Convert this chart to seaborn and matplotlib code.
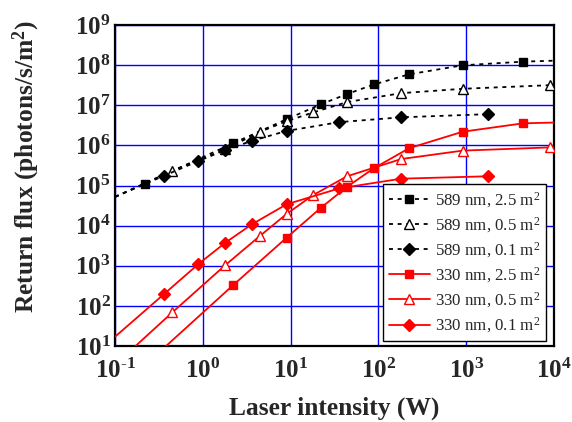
import numpy as np
import pandas as pd
import matplotlib
matplotlib.use("Agg")
import matplotlib.pyplot as plt
from matplotlib.ticker import LogLocator, FixedLocator, NullFormatter
import seaborn as sns

# ---------------- data ----------------
# 589 nm, 2.5 m^2 (filled squares)
b_sq_x = [0.22, 2.2, 9, 22, 44, 89, 224, 912, 4470]
b_sq_y = [1.12e5, 1.12e6, 4.47e6, 1.05e7, 1.9e7, 3.3e7, 5.9e7, 9.9e7, 1.22e8]
# 589 nm, 0.5 m^2 (open triangles)
b_tr_x = [0.45, 1.79, 4.5, 9, 18, 44, 182, 910, 8900]
b_tr_y = [2.34e5, 7.9e5, 2.19e6, 4.0e6, 6.6e6, 1.2e7, 2.0e7, 2.57e7, 3.16e7]
# 589 nm, 0.1 m^2 (filled diamonds)
b_di_x = [0.36, 0.89, 1.79, 3.6, 9, 36, 182, 1780]
b_di_y = [1.74e5, 4.07e5, 7.6e5, 1.29e6, 2.29e6, 3.8e6, 5.0e6, 6.0e6]
# 330 nm, 2.5 m^2
r_sq_x = [2.2, 9, 22, 44, 89, 224, 912, 4470]
r_sq_y = [324, 5.0e3, 2.75e4, 9.3e4, 2.7e5, 8.5e5, 2.19e6, 3.55e6]
# 330 nm, 0.5 m^2
r_tr_x = [0.45, 1.79, 4.5, 9, 18, 44, 182, 910, 8900]
r_tr_y = [69, 1.02e3, 5.6e3, 1.95e4, 5.75e4, 1.7e5, 4.57e5, 7.4e5, 8.9e5]
# 330 nm, 0.1 m^2
r_di_x = [0.36, 0.89, 1.79, 3.6, 9, 36, 182, 1780]
r_di_y = [195, 1.1e3, 3.7e3, 1.07e4, 3.4e4, 8.5e4, 1.48e5, 1.7e5]

# curve end points (line continues beyond markers)
b_sq_ends = ([0.1, 5.2e4], [1e4, 1.29e8])
b_tr_ends = ([0.1, 5.2e4], [1e4, 3.2e7])
b_di_ends = ([0.1, 5.2e4], None)
r_sq_ends = ([0.1, 0.7], [1e4, 3.7e6])
r_tr_ends = ([0.1, 3.4], [1e4, 9.0e5])
r_di_ends = ([0.1, 17], None)

labels = ["589 nm, 2.5 m$^2$", "589 nm, 0.5 m$^2$", "589 nm, 0.1 m$^2$",
          "330 nm, 2.5 m$^2$", "330 nm, 0.5 m$^2$", "330 nm, 0.1 m$^2$"]

x_ticks = [0.1, 1, 10, 100, 1000, 10000]
x_ticklabels = [r"\text{-}1", "0", "1", "2", "3", "4"]
y_ticks = [1e1, 1e2, 1e3, 1e4, 1e5, 1e6, 1e7, 1e8, 1e9]
y_ticklabels = ["1", "2", "3", "4", "5", "6", "7", "8", "9"]

# ---------------- style ----------------
sns.set_style("white")
plt.rcParams.update({
    "font.family": ["Liberation Serif", "DejaVu Serif"],
    "mathtext.fontset": "custom",
    "mathtext.rm": "Liberation Serif",
    "mathtext.it": "Liberation Serif:italic",
    "mathtext.bf": "Liberation Serif:bold",
})

fig = plt.figure(figsize=(5.72, 4.22), dpi=100)
ax = fig.add_axes([0.201, 0.18, 0.7675, 0.7608])


def build(xs, ys, ends):
    start, end = ends
    cx = [start[0]] + list(xs)
    cy = [start[1]] + list(ys)
    if end is not None:
        cx.append(end[0])
        cy.append(end[1])
    return pd.DataFrame({"x": cx, "y": cy}), list(range(1, len(xs) + 1))


series = [
    (b_sq_x, b_sq_y, b_sq_ends, "black", "s", "black", 5.5, (0, (2.2, 2.6))),
    (b_tr_x, b_tr_y, b_tr_ends, "black", "^", "white", 6.5, (0, (2.2, 2.6))),
    (b_di_x, b_di_y, b_di_ends, "black", "D", "black", 6.0, (0, (2.2, 2.6))),
    (r_sq_x, r_sq_y, r_sq_ends, "red", "s", "red", 5.5, "-"),
    (r_tr_x, r_tr_y, r_tr_ends, "red", "^", "white", 6.5, "-"),
    (r_di_x, r_di_y, r_di_ends, "red", "D", "red", 6.0, "-"),
]

for (xs, ys, ends, col, mk, mfc, ms, ls), lab in zip(series, labels):
    df, me = build(xs, ys, ends)
    sns.lineplot(data=df, x="x", y="y", ax=ax, estimator=None, sort=False,
                 color=col, linestyle=ls, linewidth=1.3, marker=mk,
                 markersize=ms, markerfacecolor=mfc, markeredgecolor=col,
                 markeredgewidth=1.0, markevery=me, label=lab, zorder=3)

ax.set_xscale("log")
ax.set_yscale("log")
ax.set_xlim(0.1, 1e4)
ax.set_ylim(1e1, 1e9)

ax.xaxis.set_major_locator(FixedLocator(x_ticks))
ax.yaxis.set_major_locator(FixedLocator(y_ticks))
ax.set_xticklabels([r"$\mathbf{10^{%s}}$" % t for t in x_ticklabels])
ax.set_yticklabels([r"$\mathbf{10^{%s}}$" % t for t in y_ticklabels])
ax.xaxis.set_minor_locator(LogLocator(base=10, subs=np.arange(2, 10), numticks=20))
ax.yaxis.set_minor_locator(LogLocator(base=10, subs=np.arange(2, 10), numticks=20))
ax.xaxis.set_minor_formatter(NullFormatter())
ax.yaxis.set_minor_formatter(NullFormatter())

ax.tick_params(axis="both", which="major", direction="in", length=6, width=1.0,
               labelsize=18, top=False, right=False, color="black")
ax.tick_params(axis="both", which="minor", direction="in", length=3, width=0.8,
               top=False, right=False, color="black")
ax.tick_params(axis="x", which="major", pad=9)
ax.tick_params(axis="y", which="major", pad=3)

ax.grid(True, which="major", color="#0000ff", linewidth=1.0, zorder=1)
ax.set_axisbelow(True)
for sp in ax.spines.values():
    sp.set_color("black")
    sp.set_linewidth(1.6)

ax.set_ylabel("Return flux (photons/s/m$\\mathbf{^2}$)", fontsize=18.4, fontweight="bold")
ax.yaxis.set_label_coords(-0.166, 0.559)
ax.set_xlabel("Laser intensity (W)", fontsize=18.4, fontweight="bold")
ax.xaxis.set_label_coords(0.5, -0.158)

leg = ax.legend(loc="lower right", bbox_to_anchor=(0.982, 0.0156), fontsize=12.2,
                frameon=True, fancybox=False, edgecolor="black", framealpha=1,
                handlelength=2.4, handletextpad=0.3, labelspacing=0.32,
                borderpad=0.35, borderaxespad=0)
leg.get_frame().set_linewidth(1.0)

fig.savefig("out.png", dpi=100)
